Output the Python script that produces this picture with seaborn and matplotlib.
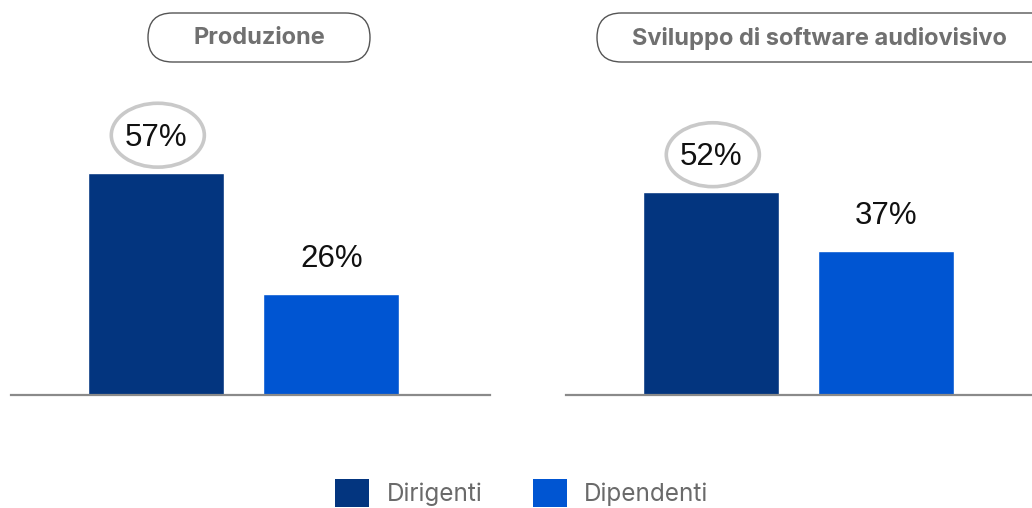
import matplotlib
matplotlib.use("Agg")
import matplotlib.pyplot as plt
from matplotlib.patches import FancyBboxPatch, Patch, Ellipse
from matplotlib.transforms import Affine2D, ScaledTranslation
import seaborn as sns
import pandas as pd

# ---- data ----
sectors = ["Produzione", "Sviluppo di software audiovisivo"]
roles = ["Dirigenti", "Dipendenti"]
values_produzione = [57, 26]
values_software = [52, 37]

colors = {"Dirigenti": "#03357F", "Dipendenti": "#0055D2"}

sns.set_theme(style="white")
plt.rcParams["font.family"] = ["Liberation Sans", "DejaVu Sans"]

W, H = 1032, 508
DPI = 100
fig = plt.figure(figsize=(W / DPI, H / DPI), dpi=DPI)
fig.patch.set_facecolor("white")


def px_rect(l, t, r, b):
    return [l / W, 1 - b / H, (r - l) / W, (b - t) / H]


ax_specs = [
    (sectors[0], values_produzione, px_rect(11, 60, 490, 395), (259, 38), (148, 13, 222, 49)),
    (sectors[1], values_software, px_rect(566, 60, 1045, 395), (819, 38), (597, 13, 480, 49)),
]

LABEL_OFF = 25  # points above bar top

for sector, vals, rect, tpos, pill in ax_specs:
    ax = fig.add_axes(rect)
    df = pd.DataFrame({"role": roles, "value": vals})
    sns.barplot(data=df, x="role", y="value", hue="role", palette=colors,
                order=roles, hue_order=roles, width=0.777, legend=False,
                ax=ax, saturation=1)
    ax.set_xlim(-0.831, 1.906)
    ax.set_ylim(0, 335 / 3.9)
    for s in ["top", "right", "left"]:
        ax.spines[s].set_visible(False)
    ax.spines["bottom"].set_color("#8a8a8a")
    ax.spines["bottom"].set_linewidth(1.6)
    ax.set_xticks([])
    ax.set_yticks([])
    ax.set_xlabel("")
    ax.set_ylabel("")
    ax.patch.set_alpha(0)
    vmax = max(vals)
    for i, v in enumerate(vals):
        if v == vmax:
            tr = Affine2D().scale(DPI / 72) + ScaledTranslation(i, v, ax.transData)
            ell = Ellipse((1, LABEL_OFF + 2), 67, 46, transform=tr, fc="white",
                          ec="#c9c9c9", lw=2.6, clip_on=False, zorder=3)
            ax.add_artist(ell)
        ax.annotate(f"{v}%", xy=(i, v), xytext=(0, LABEL_OFF), textcoords="offset points",
                    ha="center", va="center", fontsize=22.5, color="#111111",
                    annotation_clip=False, zorder=4)
    # pill title
    l, t, w, h = pill
    patch = FancyBboxPatch((l / DPI, (H - t - h) / DPI), w / DPI, h / DPI,
                           boxstyle=f"round,pad=0,rounding_size={h / (2 * DPI)}",
                           transform=fig.dpi_scale_trans, fc="white",
                           ec="#555555", lw=1.0)
    fig.add_artist(patch)
    fig.text(tpos[0] / W, 1 - tpos[1] / H, sector, ha="center", va="center",
             fontsize=17, fontweight="bold", color="#707070",
             family=["Inter", "DejaVu Sans"])

handles = [Patch(facecolor=colors[r], edgecolor="none") for r in roles]
leg = fig.legend(handles, roles, loc="center", bbox_to_anchor=(522 / W, 1 - 493 / H),
                 ncol=2, frameon=False, fontsize=17.5, handlelength=1.4,
                 handleheight=1.4, handletextpad=0.7, columnspacing=2.1,
                 borderpad=0)
for txt in leg.get_texts():
    txt.set_color("#6a6a6a")
    txt.set_family(["Inter", "DejaVu Sans"])

fig.savefig("out.png", dpi=DPI, facecolor="white")
